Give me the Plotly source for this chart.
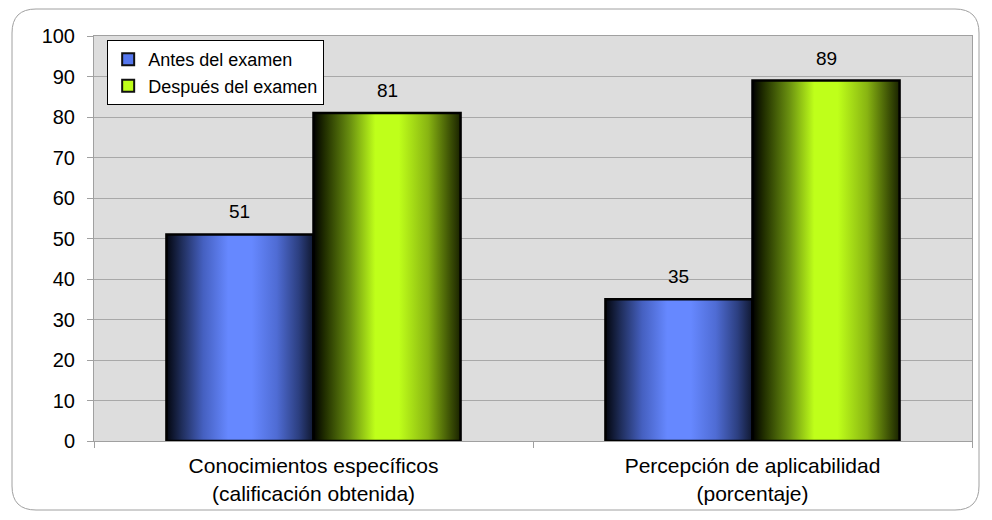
import plotly.graph_objects as go

categories = ["Conocimientos específicos<br>(calificación obtenida)",
              "Percepción de aplicabilidad<br>(porcentaje)"]
series_names = ["Antes del examen", "Después del examen"]
antes = [51, 35]
despues = [81, 89]
y_ticks = list(range(0, 101, 10))

# horizontal shading for each series (cylinder-like look)
blue_scale = [[0.0, "#03060f"], [0.1, "#1e2c58"], [0.25, "#4560c0"], [0.42, "#6688ff"],
              [0.58, "#6688ff"], [0.75, "#4f6cd4"], [0.9, "#2c3f80"], [1.0, "#101830"]]
green_scale = [[0.0, "#000000"], [0.08, "#223000"], [0.25, "#6a9010"], [0.42, "#bfff1a"],
               [0.58, "#bfff1a"], [0.78, "#88b412"], [0.93, "#3c5005"], [1.0, "#1a2300"]]
solid = ["#5577ee", "#bfff1a"]

FONT = "Liberation Sans, Arial"
bar_w = 0.335
fig = go.Figure()
annotations = []

for s, (vals, scale) in enumerate([(antes, blue_scale), (despues, green_scale)]):
    for i, v in enumerate(vals):
        x0 = i - bar_w if s == 0 else i
        x1 = x0 + bar_w
        fig.add_trace(go.Scatter(
            x=[x0, x1, x1, x0, x0], y=[0, 0, v, v, 0],
            mode="lines", fill="toself",
            fillgradient=dict(type="horizontal", colorscale=scale),
            line=dict(color="#000000", width=2.5),
            showlegend=False, hoverinfo="skip"))
        annotations.append(dict(
            x=(x0 + x1) / 2, y=v, text=str(v), showarrow=False,
            yanchor="bottom", yshift=10,
            font=dict(family=FONT, size=19, color="#000")))

# legend entries
for name, col in zip(series_names, solid):
    fig.add_trace(go.Bar(x=[None], y=[None], name=name,
                         marker=dict(color=col, line=dict(color="#111", width=2))))

# rounded outer frame (paper coordinates)
L, R, T, B = 94, 972, 36, 441
def px(x): return (x - L) / (R - L)
def py(y): return (B - y) / (B - T)
x0, x1, y0, y1, r = 12, 979, 9, 510, 24
path = (f"M {px(x0+r)},{py(y0)} L {px(x1-r)},{py(y0)} Q {px(x1)},{py(y0)} {px(x1)},{py(y0+r)} "
        f"L {px(x1)},{py(y1-r)} Q {px(x1)},{py(y1)} {px(x1-r)},{py(y1)} "
        f"L {px(x0+r)},{py(y1)} Q {px(x0)},{py(y1)} {px(x0)},{py(y1-r)} "
        f"L {px(x0)},{py(y0+r)} Q {px(x0)},{py(y0)} {px(x0+r)},{py(y0)} Z")

fig.update_layout(
    width=992, height=520,
    margin=dict(l=L, r=992 - R, t=T, b=520 - B),
    paper_bgcolor="white", plot_bgcolor="#dddddd",
    font=dict(family=FONT, size=20, color="#000"),
    annotations=annotations,
    shapes=[dict(type="path", xref="paper", yref="paper", path=path,
                 line=dict(color="#a0a0a0", width=1), layer="below")],
    legend=dict(x=0.015, y=0.99, xanchor="left", yanchor="top",
                bgcolor="white", bordercolor="#000", borderwidth=1,
                font=dict(size=18), itemwidth=30, tracegroupgap=6),
    showlegend=True,
    xaxis=dict(range=[-0.5, 1.5], tickvals=[0, 1], ticktext=categories,
               ticks="", showgrid=False, zeroline=False,
               tickfont=dict(size=21), ticklabelstandoff=6,
               showline=True, linecolor="#a0a0a0", mirror=True,
               minor=dict(ticks="outside", tick0=-0.5, dtick=1, ticklen=6,
                          tickcolor="#a0a0a0", showgrid=False)),
    yaxis=dict(range=[0, 100], tickvals=y_ticks, ticks="outside", ticklen=6,
               tickcolor="#a0a0a0", showgrid=True, gridcolor="#a8a8a8",
               ticklabelstandoff=8,
               zeroline=False, showline=True, linecolor="#a0a0a0", mirror=True),
)

fig.write_html("out.html")
